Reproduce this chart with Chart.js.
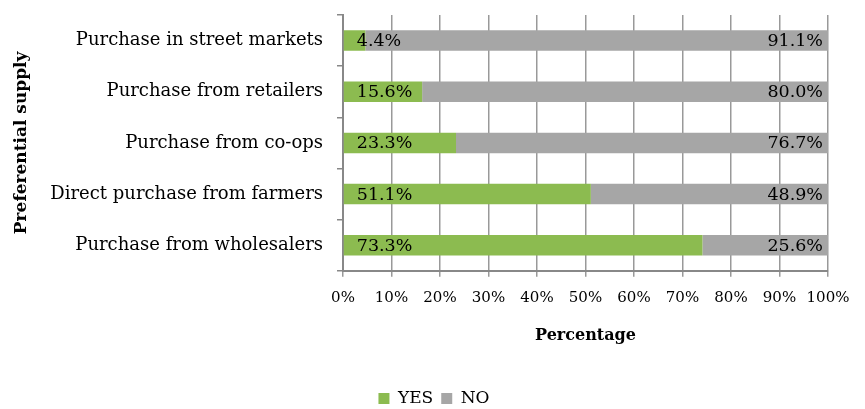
<!DOCTYPE html>
<html>
<head>
<meta charset="utf-8">
<script src="https://cdn.jsdelivr.net/npm/chart.js@4"></script>
<style>
  html, body { margin: 0; padding: 0; background: #fff; }
  #wrap { width: 865px; height: 409px; }
</style>
</head>
<body>
<div id="wrap"><canvas id="supplyChart"></canvas></div>
<script>
// --- data ---
const categories = [
    'Purchase in street markets',
    'Purchase from retailers',
    'Purchase from co-ops',
    'Direct purchase from farmers',
    'Purchase from wholesalers'
];
const yesValues = [4.4, 15.6, 23.3, 51.1, 73.3];
const noValues = [91.1, 80.0, 76.7, 48.9, 25.6];

// 100% stacked: each bar is scaled to its own total, labels keep the raw value
const yesShare = yesValues.map((v, i) => v / (v + noValues[i]) * 100);
const noShare = noValues.map((v, i) => v / (yesValues[i] + v) * 100);
const rawValues = [yesValues, noValues];

const serif = 'DejaVu Serif';

// draws "4.4%" inside the left end of green bars and "91.1%" inside the right end of gray bars
const barLabels = {
    id: 'barLabels',
    afterDatasetsDraw(chart) {
        const ctx = chart.ctx;
        ctx.save();
        ctx.font = '17.5px "' + serif + '"';
        ctx.fillStyle = '#000';
        ctx.textBaseline = 'middle';
        chart.data.datasets.forEach((ds, di) => {
            chart.getDatasetMeta(di).data.forEach((bar, i) => {
                const txt = rawValues[di][i].toFixed(1) + '%';
                if (di === 0) {
                    ctx.textAlign = 'left';
                    ctx.fillText(txt, bar.base + 13, bar.y + 1);
                } else {
                    ctx.textAlign = 'right';
                    ctx.fillText(txt, bar.x - 5, bar.y + 1);
                }
            });
        });
        ctx.restore();
    }
};

const ctx = document.getElementById('supplyChart').getContext('2d');
const supplyChart = new Chart(ctx, {
    type: 'bar',
    data: {
        labels: categories,
        datasets: [{
            label: 'YES',
            data: yesShare,
            backgroundColor: '#8cbb50',
            barPercentage: 0.8,
            categoryPercentage: 0.5
        }, {
            label: 'NO',
            data: noShare,
            backgroundColor: '#a6a6a6',
            barPercentage: 0.8,
            categoryPercentage: 0.5
        }]
    },
    plugins: [barLabels],
    options: {
        indexAxis: 'y',
        responsive: true,
        maintainAspectRatio: false,
        animation: false,
        layout: { padding: { top: 15, left: 11, right: 8, bottom: -8 } },
        plugins: {
            tooltip: { enabled: false },
            legend: {
                position: 'bottom',
                labels: {
                    color: '#000',
                    font: { family: serif, size: 17 },
                    boxWidth: 11,
                    boxHeight: 11,
                    padding: 8
                }
            }
        },
        scales: {
            x: {
                stacked: true,
                min: 0,
                max: 100,
                ticks: {
                    stepSize: 10,
                    color: '#000',
                    font: { family: serif, size: 15 },
                    padding: 12,
                    autoSkip: false,
                    maxRotation: 0,
                    minRotation: 0,
                    callback: v => v + '%'
                },
                grid: { color: '#999', lineWidth: 1.5, tickLength: 6 },
                border: { color: '#888', width: 2 },
                title: {
                    display: true,
                    text: 'Percentage',
                    color: '#000',
                    font: { family: serif, size: 16, weight: 'bold' },
                    padding: { top: 7, bottom: 37 }
                },
                afterFit(scale) { scale.paddingLeft = 0; scale.paddingRight = 37; }
            },
            y: {
                stacked: true,
                ticks: {
                    color: '#000',
                    font: { family: serif, size: 18 },
                    padding: 14
                },
                grid: { drawOnChartArea: false, offset: true, color: '#888', lineWidth: 1.5, tickLength: 6 },
                border: { color: '#888', width: 2 },
                title: {
                    display: true,
                    text: 'Preferential supply',
                    color: '#000',
                    font: { family: serif, size: 17, weight: 'bold' },
                    padding: 0
                },
                afterFit(scale) {
                    scale.width = 332;
                    scale.paddingTop = 0;
                    scale.paddingBottom = 0;
                }
            }
        }
    }
});
</script>
</body>
</html>
